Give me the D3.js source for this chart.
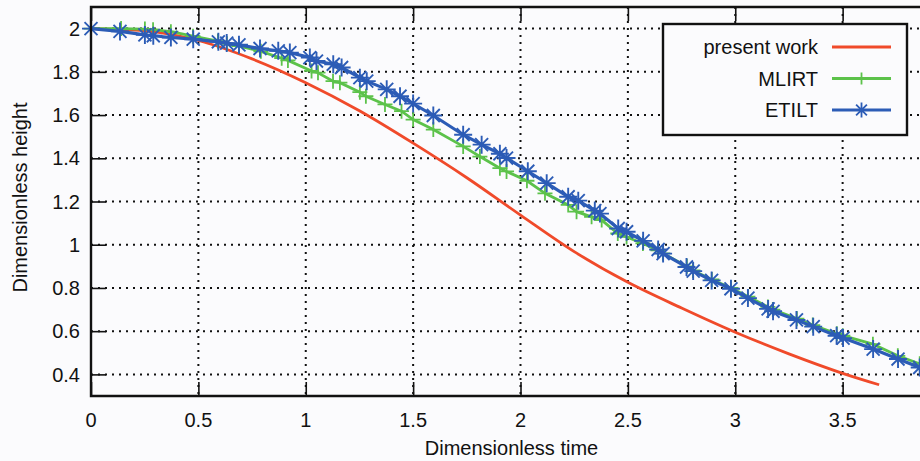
<!DOCTYPE html>
<html>
<head>
<meta charset="utf-8">
<script src="https://cdn.jsdelivr.net/npm/d3@7"></script>
<style>
  html, body { margin: 0; padding: 0; background: #fbfbfd; }
  svg { display: block; }
</style>
</head>
<body>
<div id="chart"></div>
<script>
/* ── Data ── */
const xTicks = [0, 0.5, 1, 1.5, 2, 2.5, 3, 3.5];
const yTicks = [0.4, 0.6, 0.8, 1, 1.2, 1.4, 1.6, 1.8, 2];

const presentTime = [0, 0.25, 0.5, 0.75, 1, 1.25, 1.5, 1.75, 2, 2.25, 2.5, 2.75, 3, 3.25, 3.5, 3.67];
const presentHeight = [2, 1.99, 1.945, 1.86, 1.75, 1.62, 1.47, 1.31, 1.137, 0.968, 0.826, 0.707, 0.595, 0.495, 0.405, 0.352];

const mlirtTime = [0, 0.14, 0.251, 0.289, 0.372, 0.475, 0.591, 0.633, 0.689, 0.791, 0.888, 0.917,
  1.027, 1.057, 1.127, 1.159, 1.252, 1.28, 1.369, 1.446, 1.5, 1.594, 1.733, 1.811, 1.904, 1.935,
  2.03, 2.114, 2.222, 2.261, 2.331, 2.378, 2.453, 2.494, 2.57, 2.64, 2.663, 2.775, 2.803, 2.891,
  2.98, 3.059, 3.152, 3.175, 3.287, 3.361, 3.473, 3.501, 3.641, 3.757, 3.859];
const mlirtHeight = [2, 2, 1.998, 1.995, 1.986, 1.965, 1.942, 1.93, 1.919, 1.895, 1.863, 1.853,
  1.804, 1.796, 1.757, 1.75, 1.706, 1.687, 1.649, 1.618, 1.579, 1.533, 1.455, 1.408, 1.354, 1.339,
  1.296, 1.238, 1.184, 1.153, 1.129, 1.114, 1.052, 1.036, 1.006, 0.974, 0.96, 0.9, 0.881, 0.839,
  0.8, 0.76, 0.712, 0.7, 0.658, 0.628, 0.588, 0.579, 0.54, 0.486, 0.449];

const etiltTime = [0, 0.135, 0.251, 0.29, 0.372, 0.476, 0.593, 0.632, 0.689, 0.787, 0.872, 0.926,
  1.019, 1.05, 1.128, 1.167, 1.252, 1.284, 1.377, 1.439, 1.5, 1.594, 1.733, 1.819, 1.904, 1.935,
  2.034, 2.122, 2.222, 2.269, 2.346, 2.37, 2.455, 2.494, 2.571, 2.641, 2.664, 2.773, 2.804, 2.89,
  2.98, 3.059, 3.153, 3.176, 3.285, 3.363, 3.472, 3.502, 3.642, 3.758, 3.859];
const etiltHeight = [2, 1.987, 1.971, 1.967, 1.959, 1.951, 1.939, 1.933, 1.925, 1.908, 1.897, 1.889,
  1.866, 1.85, 1.835, 1.82, 1.773, 1.757, 1.719, 1.687, 1.653, 1.598, 1.509, 1.463, 1.421, 1.401,
  1.34, 1.285, 1.222, 1.204, 1.158, 1.144, 1.075, 1.06, 1.018, 0.978, 0.959, 0.897, 0.878, 0.835,
  0.796, 0.753, 0.703, 0.692, 0.652, 0.621, 0.579, 0.568, 0.517, 0.471, 0.432];

const seriesNames = ['present work', 'MLIRT', 'ETILT'];

/* ── Chart ── */
const cfg = {
  w: 920,
  h: 461,
  left: 91,
  right: 950,
  top: 7,
  bottom: 396,
  bg: '#fbfbfd',
  font: "'Liberation Sans', Arial, sans-serif",
  red: '#f04a2a',
  green: '#5cc24a',
  blue: '#2c5cb6',
};

const zip = (xs, ys) => xs.map((t, i) => ({ t, v: ys[i] }));
const present = zip(presentTime, presentHeight);
const mlirt = zip(mlirtTime, mlirtHeight);
const etilt = zip(etiltTime, etiltHeight);

const svg = d3.select('#chart')
  .append('svg')
  .attr('width', cfg.w)
  .attr('height', cfg.h)
  .attr('viewBox', `0 0 ${cfg.w} ${cfg.h}`);

svg.append('rect')
  .attr('width', cfg.w).attr('height', cfg.h)
  .attr('fill', cfg.bg);

const x = d3.scaleLinear().domain([0, 4]).range([cfg.left, cfg.right]);
const y = d3.scaleLinear().domain([0.3, 2.1]).range([cfg.bottom, cfg.top]);

// Grid (dotted)
const grid = svg.append('g')
  .attr('stroke', '#111')
  .attr('stroke-width', 2)
  .attr('stroke-dasharray', '2,5');

xTicks.filter(d => d > 0).forEach(t => {
  grid.append('line')
    .attr('x1', x(t)).attr('x2', x(t))
    .attr('y1', cfg.top).attr('y2', cfg.bottom);
});
yTicks.forEach(t => {
  grid.append('line')
    .attr('x1', cfg.left).attr('x2', cfg.right)
    .attr('y1', y(t)).attr('y2', y(t));
});

// Axes (ticks point inwards, labels drawn separately)
svg.append('g')
  .attr('transform', `translate(0, ${cfg.bottom})`)
  .call(d3.axisBottom(x).tickValues(xTicks).tickSize(-14).tickFormat(''))
  .call(g => g.select('.domain').remove())
  .call(g => g.selectAll('.tick line').attr('stroke', '#111').attr('stroke-width', 1.6));

svg.append('g')
  .attr('transform', `translate(0, ${cfg.top})`)
  .call(d3.axisTop(x).tickValues(xTicks).tickSize(-14).tickFormat(''))
  .call(g => g.select('.domain').remove())
  .call(g => g.selectAll('.tick line').attr('stroke', '#111').attr('stroke-width', 1.6));

svg.append('g')
  .attr('transform', `translate(${cfg.left}, 0)`)
  .call(d3.axisLeft(y).tickValues(yTicks).tickSize(-15).tickFormat(''))
  .call(g => g.select('.domain').remove())
  .call(g => g.selectAll('.tick line').attr('stroke', '#111').attr('stroke-width', 1.6));

xTicks.forEach(t => {
  svg.append('text')
    .attr('x', x(t))
    .attr('y', 427)
    .attr('text-anchor', 'middle')
    .attr('font-family', cfg.font)
    .attr('font-size', '20px')
    .attr('fill', '#111')
    .text(d3.format('')(t));
});

yTicks.forEach(t => {
  svg.append('text')
    .attr('x', 80)
    .attr('y', y(t))
    .attr('dy', '0.36em')
    .attr('text-anchor', 'end')
    .attr('font-family', cfg.font)
    .attr('font-size', '20px')
    .attr('fill', '#111')
    .text(d3.format('')(t));
});

// Axis titles
svg.append('text')
  .attr('x', (cfg.left + cfg.w) / 2 + 6)
  .attr('y', 455)
  .attr('text-anchor', 'middle')
  .attr('font-family', cfg.font)
  .attr('font-size', '20px')
  .attr('fill', '#111')
  .text('Dimensionless time');

svg.append('text')
  .attr('transform', `translate(27, ${(cfg.top + cfg.bottom) / 2 - 4}) rotate(-90)`)
  .attr('text-anchor', 'middle')
  .attr('font-family', cfg.font)
  .attr('font-size', '20px')
  .attr('fill', '#111')
  .text('Dimensionless height');

// Curves
const plot = svg.append('g');

const smooth = d3.line()
  .x(d => x(d.t))
  .y(d => y(d.v))
  .curve(d3.curveMonotoneX);

const straight = d3.line()
  .x(d => x(d.t))
  .y(d => y(d.v));

plot.append('path')
  .datum(present)
  .attr('d', smooth)
  .attr('fill', 'none')
  .attr('stroke', cfg.red)
  .attr('stroke-width', 2.8);

plot.append('path')
  .datum(mlirt)
  .attr('d', straight)
  .attr('fill', 'none')
  .attr('stroke', cfg.green)
  .attr('stroke-width', 2.8);

const plusPath = s => `M${-s},0H${s}M0,${-s}V${s}`;
const starPath = s => {
  const k = s * 0.72;
  return `M${-s},0H${s}M0,${-s}V${s}M${-k},${-k}L${k},${k}M${-k},${k}L${k},${-k}`;
};

mlirt.forEach(d => {
  plot.append('path')
    .attr('transform', `translate(${x(d.t)}, ${y(d.v)})`)
    .attr('d', plusPath(7.5))
    .attr('fill', 'none')
    .attr('stroke', cfg.green)
    .attr('stroke-width', 1.8);
});

plot.append('path')
  .datum(etilt)
  .attr('d', straight)
  .attr('fill', 'none')
  .attr('stroke', cfg.blue)
  .attr('stroke-width', 3.2);

etilt.forEach(d => {
  plot.append('path')
    .attr('transform', `translate(${x(d.t)}, ${y(d.v)})`)
    .attr('d', starPath(9))
    .attr('fill', 'none')
    .attr('stroke', cfg.blue)
    .attr('stroke-width', 1.9);
});

// Frame
svg.append('path')
  .attr('d', `M${cfg.w + 5},${cfg.top}H${cfg.left}V${cfg.bottom}H${cfg.w + 5}`)
  .attr('fill', 'none')
  .attr('stroke', '#111')
  .attr('stroke-width', 2.4);

// Legend
const legend = svg.append('g');
legend.append('rect')
  .attr('x', 663).attr('y', 24)
  .attr('width', 244).attr('height', 111)
  .attr('fill', cfg.bg)
  .attr('stroke', '#111')
  .attr('stroke-width', 2.4);

const legendColors = [cfg.red, cfg.green, cfg.blue];
const legendMarks = [null, plusPath(6), starPath(7.5)];
seriesNames.forEach((name, i) => {
  const ly = 47 + i * 31.5;
  legend.append('text')
    .attr('x', 818)
    .attr('y', ly)
    .attr('dy', '0.36em')
    .attr('text-anchor', 'end')
    .attr('font-family', cfg.font)
    .attr('font-size', '20px')
    .attr('fill', '#111')
    .text(name);
  legend.append('line')
    .attr('x1', 832).attr('x2', 891)
    .attr('y1', ly).attr('y2', ly)
    .attr('stroke', legendColors[i])
    .attr('stroke-width', i === 2 ? 3.2 : 2.8);
  if (legendMarks[i]) {
    legend.append('path')
      .attr('transform', `translate(861.5, ${ly})`)
      .attr('d', legendMarks[i])
      .attr('fill', 'none')
      .attr('stroke', legendColors[i])
      .attr('stroke-width', 1.8);
  }
});
</script>
</body>
</html>
